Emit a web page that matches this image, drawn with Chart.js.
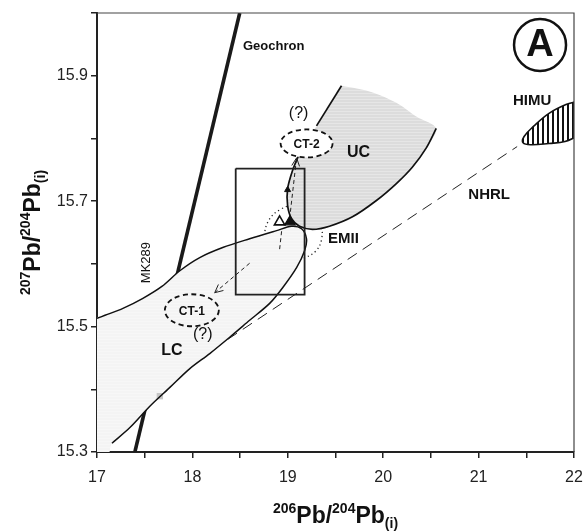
<!DOCTYPE html>
<html>
<head>
<meta charset="utf-8">
<script src="https://cdn.jsdelivr.net/npm/chart.js@4.4.1/dist/chart.umd.min.js"></script>
<style>
  html, body { margin: 0; padding: 0; background: #fff; }
  canvas { display: block; }
</style>
</head>
<body>
<canvas id="chart" width="585" height="531"></canvas>
<script>
// ---- Tick labels -------------------------------------------------------
const xTickLabels = [17, 18, 19, 20, 21, 22];
const yTickLabels = [15.3, 15.5, 15.7, 15.9];

// ---- Reference lines (206Pb/204Pb, 207Pb/204Pb) -------------------------
const geochron = [[17.397, 15.300], [18.496, 16.000]];
const nhrl = [[17.743, 15.416], [21.404, 15.787]];

// ---- Lower crust (LC) field outline --------------------------------------
const lcBoundary = [
  [17.000, 15.513], [17.084, 15.518], [17.272, 15.529], [17.481, 15.545],
  [17.680, 15.564], [17.868, 15.589], [18.077, 15.610], [18.318, 15.626],
  [18.600, 15.640], [18.882, 15.653], [19.039, 15.660], [19.144, 15.656],
  [19.196, 15.640], [19.176, 15.621], [19.092, 15.594], [18.946, 15.562],
  [18.810, 15.537], [18.600, 15.510], [18.391, 15.483], [18.182, 15.457],
  [17.973, 15.433], [17.764, 15.403], [17.554, 15.373], [17.345, 15.339],
  [17.157, 15.314]
];
// corner points closing the LC fill against the axes
const lcAxisCorners = [[16.980, 15.280], [17.120, 15.280]];

// ---- Upper crust (UC) field -------------------------------------------
const ucTop = [
  [19.563, 15.884], [19.856, 15.875], [20.138, 15.857], [20.347, 15.835],
  [20.556, 15.816]
];
const ucRim = [
  [20.556, 15.816], [20.452, 15.785], [20.305, 15.754], [20.138, 15.728],
  [19.929, 15.701], [19.678, 15.675], [19.437, 15.660], [19.259, 15.655],
  [19.123, 15.660], [19.040, 15.672], [18.998, 15.693], [18.998, 15.720],
  [19.050, 15.749], [19.113, 15.773]
];
const ucEdge = [[19.301, 15.820], [19.563, 15.884]];

// ---- HIMU field ---------------------------------------------------------
const himuField = [
  [22.031, 15.859], [21.916, 15.854], [21.738, 15.840], [21.581, 15.820],
  [21.477, 15.803], [21.466, 15.793], [21.550, 15.790], [21.738, 15.792],
  [21.906, 15.795], [22.031, 15.803]
];

// ---- EMII field (dotted) -----------------------------------------------
const emiiField = [
  [18.956, 15.609], [18.810, 15.618], [18.757, 15.640], [18.799, 15.669],
  [18.925, 15.687], [19.071, 15.693], [19.238, 15.683], [19.343, 15.663],
  [19.354, 15.639], [19.291, 15.620], [19.165, 15.609], [19.040, 15.604],
  [18.956, 15.609]
];

// ---- Enlarged-area box, arrows and samples -----------------------------
const boxCorners = [
  [18.454, 15.752], [19.176, 15.752], [19.176, 15.551], [18.454, 15.551],
  [18.454, 15.752]
];
const arrowToCT1 = [[18.600, 15.601], [18.234, 15.554]];
const arrowToCT2 = [[19.019, 15.672], [19.092, 15.769]];
const emiiDrop = [[18.935, 15.652], [18.914, 15.623]];
const openTriangle = [[18.914, 15.667]];
const filledTriangle = [[19.022, 15.667]];
const rimArrowTip = [[18.998, 15.718]];
const graySquare = [[17.659, 15.389]];
const panelMark = [[21.644, 15.949]];

// ---- Crustal components CT-1 / CT-2 -------------------------------------
const ctNames = ['CT-1', 'CT-2'];
const ctCentres = [[17.994, 15.526], [19.197, 15.792]];

// ---- Text placed in the plot ------------------------------------------------
const FAM = "'Liberation Sans', Arial, Helvetica, sans-serif";
const plotLabels = [
  { text: 'Geochron', at: [18.530, 15.949], size: 13, bold: true, align: 'left' },
  { text: 'HIMU', at: [21.561, 15.862], size: 15, bold: true },
  { text: 'UC', at: [19.741, 15.779], size: 16, bold: true },
  { text: 'EMII', at: [19.584, 15.642], size: 15, bold: true },
  { text: 'NHRL', at: [21.111, 15.712], size: 15, bold: true },
  { text: 'LC', at: [17.785, 15.464], size: 16, bold: true },
  { text: 'MK289', at: [17.523, 15.602], size: 13, rotate: true },
  { text: ctNames[0], at: ctCentres[0], size: 12, bold: true },
  { text: '(?)', at: [18.109, 15.489], size: 16 },
  { text: ctNames[1], at: ctCentres[1], size: 12, bold: true },
  { text: '(?)', at: [19.113, 15.841], size: 16 },
  { text: 'A', at: panelMark[0], size: 38, bold: true }
];
const ctShapes = [{ rx: 27, ry: 16, fill: null }, { rx: 26, ry: 14, fill: '#ffffff' }];

// ---- helpers ----------------------------------------------------------
const pts = arr => arr.map(([x, y]) => ({ x, y }));

function makePattern(w, h, paint) {
  const c = document.createElement('canvas');
  c.width = w; c.height = h;
  const g = c.getContext('2d');
  paint(g, w, h);
  return g.createPattern(c, 'repeat');
}
const ucPattern = makePattern(4, 3, (g, w, h) => {
  g.fillStyle = '#dcdcdc'; g.fillRect(0, 0, w, h);
  g.fillStyle = '#e6e6e6'; g.fillRect(0, 0, w, 1);
});
const lcPattern = makePattern(4, 3, (g, w, h) => {
  g.fillStyle = '#f4f4f4'; g.fillRect(0, 0, w, h);
  g.fillStyle = '#f7f7f7'; g.fillRect(0, 0, w, 1);
});
const himuPattern = makePattern(5, 5, (g, w, h) => {
  g.fillStyle = '#ffffff'; g.fillRect(0, 0, w, h);
  g.fillStyle = '#111111'; g.fillRect(2, 0, 2, h);
});

function lineSet(data, extra) {
  return Object.assign({
    type: 'line', data: pts(data), pointRadius: 0, pointHoverRadius: 0,
    fill: false, borderColor: '#111', borderWidth: 1.5, tension: 0
  }, extra);
}
function shapeSet(data, extra) {
  return Object.assign({
    type: 'line', data: pts(data), indexAxis: 'y', fill: 'shape',
    pointRadius: 0, pointHoverRadius: 0, borderColor: 'rgba(0,0,0,0)',
    borderWidth: 0, tension: 0.3
  }, extra);
}
function pointSet(data, extra) {
  return Object.assign({
    type: 'scatter', data: pts(data), pointHoverRadius: 0
  }, extra);
}

const datasets = [
  lineSet(emiiField, { borderDash: [1.2, 3], borderWidth: 1.3, borderColor: '#222', tension: 0.4, order: 30 }),
  lineSet(geochron, { borderWidth: 3.6, borderColor: '#1a1a1a', order: 29 }),
  lineSet(nhrl, { borderDash: [11, 7], borderWidth: 1, borderColor: '#222', order: 28 }),
  shapeSet(ucTop.concat(ucRim.slice(1), ucEdge), { backgroundColor: ucPattern, order: 25 }),
  lineSet(ucRim, { tension: 0.3, borderWidth: 1.7, order: 24 }),
  lineSet(ucEdge, { borderWidth: 1.7, order: 24 }),
  shapeSet([lcAxisCorners[0]].concat(lcBoundary, [lcAxisCorners[1]]), { backgroundColor: lcPattern, order: 22 }),
  pointSet(graySquare, { pointStyle: 'rect', pointRadius: 4.5, backgroundColor: '#c6c6c6', borderWidth: 0, order: 21 }),
  lineSet(lcBoundary, { tension: 0.3, borderWidth: 1.5, order: 20 }),
  shapeSet(himuField, { backgroundColor: himuPattern, borderColor: '#111', borderWidth: 1.6, tension: 0.4, order: 19 }),
  lineSet(boxCorners, { borderWidth: 1.8, borderColor: '#222', order: 15 }),
  lineSet(arrowToCT1, { borderDash: [4, 3], borderWidth: 1, borderColor: '#222', order: 12, arrowHead: true }),
  lineSet(arrowToCT2, { borderDash: [4, 3], borderWidth: 1, borderColor: '#222', order: 12, arrowHead: true }),
  lineSet(emiiDrop, { borderDash: [4, 3], borderWidth: 1, borderColor: '#222', order: 12 }),
  pointSet(rimArrowTip, { pointStyle: 'triangle', pointRadius: 3.5, backgroundColor: '#111', borderColor: '#111', borderWidth: 1, order: 11 }),
  pointSet(filledTriangle, { pointStyle: 'triangle', pointRadius: 6, backgroundColor: '#111', borderColor: '#111', borderWidth: 1.2, order: 10 }),
  pointSet(openTriangle, { pointStyle: 'triangle', pointRadius: 6, backgroundColor: '#fff', borderColor: '#111', borderWidth: 1.6, order: 9 }),
  pointSet(panelMark, { pointStyle: 'circle', pointRadius: 26, backgroundColor: '#fff', borderColor: '#111', borderWidth: 2.5, order: 5 })
];

// ---- plugins -----------------------------------------------------------
const ctEllipses = {
  id: 'ctEllipses',
  afterDatasetsDraw(chart) {
    const { ctx, scales: { x, y } } = chart;
    ctx.save();
    ctCentres.forEach(([cx, cy], i) => {
      const s = ctShapes[i];
      ctx.beginPath();
      ctx.ellipse(x.getPixelForValue(cx), y.getPixelForValue(cy), s.rx, s.ry, 0, 0, Math.PI * 2);
      if (s.fill) { ctx.fillStyle = s.fill; ctx.fill(); }
      ctx.setLineDash([5, 3.5]);
      ctx.lineWidth = 1.8;
      ctx.strokeStyle = '#111';
      ctx.stroke();
    });
    ctx.restore();
  }
};

const arrowHeads = {
  id: 'arrowHeads',
  afterDatasetsDraw(chart) {
    const ctx = chart.ctx;
    chart.data.datasets.forEach((ds, i) => {
      if (!ds.arrowHead) return;
      const el = chart.getDatasetMeta(i).data;
      const a = el[el.length - 2], b = el[el.length - 1];
      const ang = Math.atan2(b.y - a.y, b.x - a.x);
      ctx.save();
      ctx.strokeStyle = '#222';
      ctx.lineWidth = 1;
      ctx.setLineDash([]);
      ctx.beginPath();
      ctx.moveTo(b.x - 9 * Math.cos(ang - 0.45), b.y - 9 * Math.sin(ang - 0.45));
      ctx.lineTo(b.x, b.y);
      ctx.lineTo(b.x - 9 * Math.cos(ang + 0.45), b.y - 9 * Math.sin(ang + 0.45));
      ctx.stroke();
      ctx.restore();
    });
  }
};

const plotText = {
  id: 'plotText',
  afterDatasetsDraw(chart) {
    const { ctx, scales: { x, y } } = chart;
    ctx.save();
    ctx.fillStyle = '#111';
    ctx.textBaseline = 'middle';
    plotLabels.forEach(l => {
      const px = x.getPixelForValue(l.at[0]);
      const py = y.getPixelForValue(l.at[1]);
      ctx.font = (l.bold ? 'bold ' : '') + l.size + 'px ' + FAM;
      ctx.textAlign = l.align || 'center';
      if (l.rotate) {
        ctx.save();
        ctx.translate(px, py);
        ctx.rotate(-Math.PI / 2);
        ctx.fillText(l.text, 0, 0);
        ctx.restore();
      } else {
        ctx.fillText(l.text, px, py + 1);
      }
    });
    ctx.restore();
  }
};

const frame = {
  id: 'frame',
  afterDatasetsDraw(chart) {
    const { ctx, chartArea: a } = chart;
    ctx.save();
    ctx.strokeStyle = '#444';
    ctx.lineWidth = 1.2;
    ctx.beginPath();
    ctx.moveTo(a.left, a.top);
    ctx.lineTo(a.right, a.top);
    ctx.lineTo(a.right, a.bottom);
    ctx.stroke();
    ctx.restore();
  }
};

function titleParts(iso) {
  return [
    { t: iso, font: 'bold 14px ' + FAM, dy: -10 },
    { t: 'Pb/', font: 'bold 23px ' + FAM, dy: 0 },
    { t: '204', font: 'bold 14px ' + FAM, dy: -10 },
    { t: 'Pb', font: 'bold 23px ' + FAM, dy: 0 },
    { t: '(i)', font: 'bold 14px ' + FAM, dy: 5 }
  ];
}
function drawRich(ctx, parts, cx, base) {
  let total = 0;
  parts.forEach(p => { ctx.font = p.font; p.w = ctx.measureText(p.t).width; total += p.w; });
  let cur = cx - total / 2;
  parts.forEach(p => { ctx.font = p.font; ctx.fillText(p.t, cur, base + p.dy); cur += p.w; });
}
const axisTitles = {
  id: 'axisTitles',
  afterDraw(chart) {
    const { ctx, chartArea: a } = chart;
    ctx.save();
    ctx.fillStyle = '#111';
    ctx.textAlign = 'left';
    ctx.textBaseline = 'alphabetic';
    drawRich(ctx, titleParts('206'), (a.left + a.right) / 2, 523);
    ctx.translate(40, (a.top + a.bottom) / 2);
    ctx.rotate(-Math.PI / 2);
    drawRich(ctx, titleParts('207'), 0, 0);
    ctx.restore();
  }
};

// the plot frame is fixed by the layout padding, so the scales' own label overhang is dropped
function fixScale(size) {
  return s => {
    if (s.isHorizontal()) s.height = size; else s.width = size;
    s.paddingTop = s.paddingBottom = s.paddingLeft = s.paddingRight = 0;
  };
}

const tickFont = { family: FAM, size: 16 };
new Chart(document.getElementById('chart'), {
  type: 'line',
  data: { datasets },
  plugins: [ctEllipses, arrowHeads, plotText, frame, axisTitles],
  options: {
    responsive: false,
    animation: false,
    events: [],
    layout: { autoPadding: false, padding: { left: 0, right: 11, top: 13, bottom: 0 } },
    plugins: { legend: { display: false }, tooltip: { enabled: false } },
    scales: {
      x: {
        type: 'linear', min: 17, max: 22,
        afterFit: fixScale(79),
        ticks: {
          stepSize: 0.5, autoSkip: false, maxRotation: 0, padding: 10,
          color: '#222', font: tickFont,
          callback: v => xTickLabels.some(t => Math.abs(t - v) < 1e-6) ? String(Math.round(v)) : ''
        },
        grid: { drawOnChartArea: false, drawTicks: true, tickLength: 6, color: '#222', lineWidth: 1.5 },
        border: { color: '#222', width: 2 }
      },
      y: {
        type: 'linear', min: 15.3, max: 16.0,
        afterFit: fixScale(97),
        ticks: {
          stepSize: 0.1, autoSkip: false, padding: 3,
          color: '#222', font: tickFont,
          callback: v => yTickLabels.some(t => Math.abs(t - v) < 1e-6) ? v.toFixed(1) : ''
        },
        grid: { drawOnChartArea: false, drawTicks: true, tickLength: 6, color: '#222', lineWidth: 1.5 },
        border: { color: '#222', width: 2 }
      }
    }
  }
});
</script>
</body>
</html>
